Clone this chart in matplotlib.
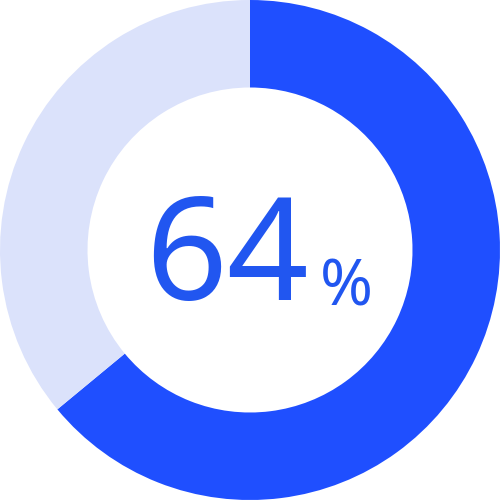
import matplotlib
matplotlib.use("Agg")
import matplotlib.pyplot as plt

labels = ["Done", "Remaining"]
values = [64, 36]
colors = ["#1f4fff", "#dbe2fb"]
center_value = "64"
center_unit = "%"

fig = plt.figure(figsize=(5, 5), dpi=100)
ax = fig.add_axes([0, 0, 1, 1])
ax.pie(values, colors=colors, startangle=90, counterclock=False,
       radius=1.0, wedgeprops=dict(width=0.35, edgecolor="none", linewidth=0))
ax.set_xlim(-1, 1)
ax.set_ylim(-1, 1)
ax.set_aspect("equal")
ax.axis("off")

ax.text(-0.42, -0.2, center_value, fontsize=103, color="#2156f0",
        family="Noto Sans", ha="left", va="baseline")
ax.text(0.28, -0.22, center_unit, fontsize=46, color="#2156f0",
        family="Noto Sans", ha="left", va="baseline")

fig.savefig("out.png", dpi=100, facecolor="white")
